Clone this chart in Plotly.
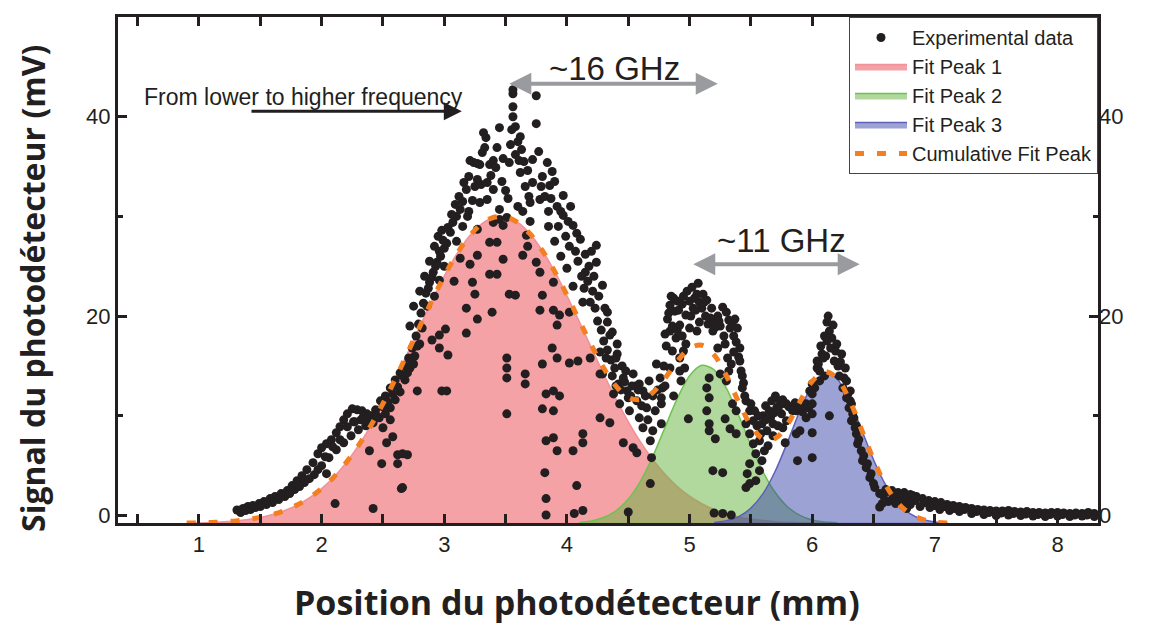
import plotly.graph_objects as go

# ---------------- data ----------------
fit_baseline = -0.8

rise_pts = [
    (1.31, 0.55), (1.36, 0.7), (1.40, 0.9), (1.44, 1.0), (1.49, 1.2), (1.53, 1.4), (1.58, 1.7), (1.62, 1.9),
    (1.67, 2.2), (1.72, 2.5), (1.76, 3.0), (1.80, 3.5), (1.84, 4.0), (1.88, 4.6), (1.93, 5.3), (1.97, 6.2),
    (2.00, 6.8), (2.04, 7.2), (2.08, 7.6), (2.12, 8.3), (2.15, 8.9), (2.18, 9.6), (2.21, 10.2), (2.25, 10.7),
    (2.29, 10.6), (2.33, 10.5), (2.37, 10.2), (2.40, 10.0), (2.44, 10.6), (2.48, 11.5), (2.52, 12.0), (2.56, 12.8),
    (2.60, 13.6), (2.64, 14.3), (2.68, 15.0), (2.71, 15.8), (2.74, 16.8), (2.77, 18.0), (2.79, 19.2), (2.81, 20.3),
    (2.83, 21.3),
    (1.34, 0.3), (1.42, 0.6), (1.50, 0.9), (1.60, 1.3), (1.70, 1.9), (1.78, 2.6), (1.86, 3.3), (1.94, 4.1),
    (2.00, 5.0), (2.06, 5.8), (2.12, 6.6), (2.18, 7.3), (2.24, 8.0), (2.30, 8.6), (2.36, 9.0), (2.42, 9.3),
    (2.47, 9.8), (2.52, 10.2), (2.56, 10.8), (2.60, 11.6), (2.64, 12.4), (2.68, 13.6), (2.72, 14.8), (2.76, 16.0),
    (2.80, 17.2),
    (1.38, 0.5), (1.46, 0.8), (1.55, 1.1), (1.65, 1.6), (1.74, 2.2), (1.82, 2.9), (1.90, 3.7), (1.97, 4.6),
    (2.03, 5.9), (2.09, 6.9), (2.15, 7.6), (2.21, 8.9), (2.27, 9.4), (2.32, 9.6), (2.38, 9.5), (2.45, 10.0),
    (2.50, 10.9), (2.54, 11.4), (2.58, 12.2), (2.62, 12.9), (2.66, 14.0), (2.70, 14.3), (2.73, 15.6),
    (2.04, 4.2), (2.11, 1.2), (2.42, 0.7), (2.49, 5.2), (2.62, 5.2), (2.65, 2.7), (2.62, 6.1), (2.70, 6.1),
    (2.53, 7.3), (2.58, 7.9), (2.39, 6.5), (2.78, 12.5), (2.66, 6.2), (2.66, 2.8), (2.26, 9.4), (2.34, 9.9),
    (2.50, 8.8), (2.56, 9.6),
]

peak1_pts = [
    (2.85, 22.3), (2.88, 23.4), (2.91, 24.4), (2.94, 25.4), (2.97, 26.0), (3.00, 26.8), (3.02, 27.3), (3.05, 28.4),
    (3.07, 29.4), (3.10, 30.0), (3.13, 30.7), (3.15, 31.5), (3.18, 32.7), (3.20, 34.0), (3.21, 35.6), (3.24, 35.4),
    (3.27, 35.3), (3.29, 35.2), (3.32, 38.4), (3.34, 37.9), (3.33, 36.9), (3.37, 35.2), (3.40, 35.6), (3.43, 36.9),
    (3.45, 38.9), (3.48, 35.8), (3.53, 35.4), (3.56, 40.0), (3.56, 41.0), (3.56, 42.3), (3.56, 42.7), (3.58, 39.0),
    (3.60, 37.5), (3.62, 38.0), (3.63, 36.7), (3.62, 34.4), (3.66, 33.0), (3.69, 32.0), (3.70, 31.4), (3.72, 33.4),
    (3.72, 35.7), (3.75, 39.3), (3.75, 42.1), (3.78, 31.7), (3.80, 34.0), (3.84, 35.4), (3.86, 33.1), (3.88, 34.5),
    (3.92, 31.0), (3.97, 32.1), (3.97, 30.1), (4.01, 29.5), (4.05, 29.1), (4.08, 28.3), (4.11, 27.7), (4.15, 26.2),
    (4.18, 25.0), (4.24, 27.1), (4.24, 25.4), (4.15, 24.4), (4.22, 24.0), (4.29, 23.1), (4.19, 21.4), (4.26, 22.0),
    (4.31, 20.8), (4.33, 20.4), (4.35, 18.1), (4.37, 18.4), (4.27, 16.4), (4.41, 17.2),
    (2.87, 22.8), (2.90, 23.9), (2.93, 25.0), (2.96, 26.5), (2.99, 27.6), (3.03, 28.9), (3.06, 30.2), (3.09, 31.2),
    (3.12, 32.0), (3.16, 33.4), (3.19, 30.0), (3.23, 31.6), (3.25, 33.0), (3.30, 33.2), (3.31, 36.4), (3.38, 34.1),
    (3.42, 34.9), (3.47, 33.5), (3.50, 32.6), (3.54, 37.2), (3.55, 38.7), (3.58, 36.2), (3.61, 35.6), (3.52, 31.8),
    (3.65, 35.5), (3.68, 34.6), (3.77, 36.5), (3.79, 33.0), (3.82, 32.0), (3.85, 30.5), (3.87, 31.8), (3.90, 33.5),
    (3.93, 29.0), (3.95, 30.5), (3.99, 28.0), (4.02, 27.0), (4.03, 31.0), (4.07, 26.5), (4.09, 25.5), (4.12, 24.0),
    (4.14, 22.8), (4.17, 23.5), (4.20, 26.5), (4.21, 22.5), (4.23, 20.8), (4.25, 19.5), (4.28, 18.6), (4.30, 17.5),
    (4.33, 16.6), (4.36, 15.6), (4.39, 14.8), (4.42, 13.2), (4.38, 12.2), (4.41, 16.2),
    (2.72, 19.0), (2.75, 21.0), (2.80, 22.5), (2.84, 24.0), (2.88, 25.5), (2.92, 27.0), (2.95, 28.0), (2.98, 28.6),
    (2.86, 21.0), (2.82, 18.8), (2.78, 17.0), (2.75, 15.2), (2.92, 22.0), (2.96, 23.6), (3.00, 25.0), (2.96, 16.8),
    (3.03, 16.1), (2.90, 17.6), (2.96, 18.1), (3.01, 18.7), (2.98, 12.5), (3.02, 12.5),
    (3.29, 31.4), (3.35, 31.7), (3.40, 29.4), (3.45, 29.7), (3.48, 29.1), (3.27, 28.7), (3.37, 27.4), (3.43, 27.4),
    (3.48, 25.7), (3.27, 26.1), (3.21, 25.2), (3.37, 24.2), (3.43, 24.2), (3.23, 23.4), (3.25, 22.2), (3.53, 22.2),
    (3.58, 22.1), (3.18, 20.8), (3.39, 20.4), (3.27, 19.7), (3.18, 18.3), (3.27, 33.7), (3.35, 33.4), (3.40, 32.7),
    (3.45, 30.7), (3.51, 29.9), (3.10, 27.5), (3.15, 29.0), (3.20, 30.5), (3.13, 25.8), (3.08, 23.5),
    (3.64, 26.1), (3.67, 28.1), (3.75, 25.4), (3.78, 24.4), (3.89, 23.4), (3.80, 22.1), (3.89, 20.6), (3.78, 20.6),
    (3.94, 20.1), (3.92, 19.1), (4.02, 20.4), (4.13, 21.4), (3.88, 16.8), (3.92, 15.8), (4.02, 15.3), (4.09, 15.5),
    (3.80, 15.2), (4.19, 15.8), (4.27, 14.2), (3.83, 12.2), (3.89, 12.5), (3.94, 12.0), (3.80, 10.7), (3.89, 10.5),
    (3.51, 15.8), (3.51, 14.8), (3.51, 13.8), (3.66, 14.2), (3.66, 13.2), (3.51, 10.2), (4.27, 9.8), (4.35, 9.3),
    (3.83, 7.5), (3.89, 7.8), (3.92, 6.5), (4.05, 6.5), (4.13, 8.2), (4.13, 7.3), (3.82, 4.3), (4.08, 3.0),
    (3.83, 1.7), (4.06, 0.2), (4.13, 0.5), (3.83, 0.05), (3.68, 27.0), (3.70, 29.5), (3.85, 29.0), (3.90, 27.5),
    (3.95, 26.0), (4.00, 24.8), (4.05, 23.0), (3.60, 31.0), (3.64, 30.5),
]

peak2_pts = [
    (4.33, 19.4), (4.32, 15.8), (4.40, 15.8), (4.29, 14.2), (4.37, 14.0), (4.46, 13.8), (4.54, 14.2), (4.59, 13.2),
    (4.49, 12.5), (4.62, 12.5), (4.43, 11.2), (4.57, 11.5), (4.65, 10.8), (4.51, 10.5), (4.59, 9.8), (4.62, 8.8),
    (4.70, 8.5), (4.68, 7.5), (4.46, 7.3), (4.54, 6.8), (4.57, 6.3), (4.69, 5.8), (4.68, 3.2), (4.50, 0.35),
    (4.76, 13.8), (4.78, 12.8), (4.77, 11.8), (4.77, 11.2), (4.77, 9.2), (4.73, 15.2), (4.52, 12.0), (4.56, 13.0),
    (4.45, 15.0), (4.48, 14.5), (4.70, 12.0), (4.67, 13.5),
    (4.40, 13.0), (4.44, 12.6), (4.47, 13.4), (4.50, 11.8), (4.53, 13.0), (4.58, 12.6), (4.61, 11.0), (4.64, 12.0),
    (4.66, 9.6), (4.72, 10.5), (4.74, 12.6), (4.79, 15.0), (4.80, 13.0),
    (4.84, 21.1), (4.82, 19.7), (4.84, 18.5), (4.81, 17.0), (4.86, 16.5), (4.89, 17.8), (4.92, 19.1), (4.97, 20.1),
    (5.02, 22.9), (5.06, 22.2), (5.08, 21.4), (5.11, 22.2), (5.03, 20.8), (5.00, 18.8), (5.08, 19.4), (5.18, 20.8),
    (5.06, 18.5), (4.92, 15.8), (4.92, 14.5), (4.93, 13.5), (4.96, 14.8), (5.19, 18.5), (5.23, 20.0), (5.30, 20.4),
    (5.37, 19.7), (5.39, 18.8), (5.41, 16.8), (5.23, 16.8), (5.29, 17.2), (5.31, 15.8), (5.34, 15.2), (5.25, 14.2),
    (5.30, 13.5), (5.16, 13.8), (5.14, 12.8), (5.16, 11.8), (5.14, 10.5), (5.16, 9.2), (5.16, 8.5), (5.21, 7.7),
    (5.29, 9.7), (5.33, 8.7), (5.38, 8.2), (5.38, 10.5), (5.35, 11.2), (5.16, 25.0), (4.86, 19.0), (4.88, 20.5),
    (4.90, 21.5), (4.95, 22.0), (5.00, 21.5), (5.04, 21.8), (5.10, 20.8), (5.13, 20.0), (5.15, 19.2), (5.20, 19.6),
    (5.25, 19.0), (5.28, 18.0), (5.33, 18.8), (5.36, 18.0), (5.41, 15.5), (5.42, 14.5), (4.99, 9.7), (5.19, 4.5),
    (5.27, 4.3), (5.20, 0.25), (5.27, 0.2), (5.34, 0.05), (4.87, 12.0), (4.84, 14.8),
    (4.80, 18.2), (4.83, 20.3), (4.85, 22.0), (4.87, 21.8), (4.91, 20.6), (4.94, 21.2), (4.98, 22.5), (5.01, 20.0),
    (5.05, 20.6), (5.07, 23.3), (5.12, 21.4), (5.14, 21.6), (5.17, 19.8), (5.21, 18.9), (5.24, 19.5), (5.27, 20.9),
    (5.32, 19.6), (5.35, 19.1), (5.38, 17.4), (5.40, 15.9), (5.43, 14.0), (5.44, 13.3), (5.36, 16.4), (5.32, 14.5),
    (4.95, 16.5), (4.97, 17.2), (4.90, 18.6), (4.94, 18.0),
]

peak3_pts = [
    (5.43, 12.8), (5.46, 11.5), (5.49, 10.5), (5.46, 9.2), (5.49, 8.2), (5.52, 7.2), (5.54, 6.2), (5.49, 5.2),
    (5.47, 4.2), (5.49, 3.2), (5.46, 2.8), (5.54, 3.5), (5.57, 4.5), (5.59, 5.5), (5.57, 7.5), (5.63, 8.5),
    (5.68, 9.2), (5.71, 10.8), (5.79, 11.2), (5.79, 9.5), (5.87, 10.5), (5.90, 8.5), (5.95, 9.8), (5.60, 10.0),
    (5.62, 11.0), (5.65, 10.5), (5.67, 11.5), (5.70, 12.0), (5.73, 11.0), (5.75, 10.2), (5.68, 8.0), (5.72, 9.0),
    (5.64, 7.0), (5.61, 6.5), (5.55, 9.0), (5.52, 9.5), (5.58, 8.2),
    (5.45, 12.0), (5.50, 11.2), (5.53, 10.5), (5.56, 10.0), (5.59, 9.2), (5.62, 9.6), (5.66, 9.8), (5.69, 10.3),
    (5.72, 10.6), (5.76, 11.6), (5.81, 10.9), (5.86, 11.3), (5.92, 10.4), (5.97, 10.8), (6.02, 12.8), (6.05, 15.2),
    (6.07, 17.0), (6.10, 18.0), (6.11, 16.0), (6.16, 17.8), (6.19, 16.5), (6.21, 15.0), (6.23, 15.4), (6.26, 13.8),
    (6.29, 12.2), (6.31, 11.5), (6.36, 9.0),
    (5.74, 11.5), (5.78, 11.2), (5.84, 10.5), (5.90, 10.8), (5.95, 11.2), (6.00, 10.2), (5.76, 8.8), (5.78, 7.3),
    (5.87, 8.2), (6.00, 8.3), (5.88, 5.5), (6.00, 5.8), (6.14, 10.0), (5.98, 12.5), (6.00, 13.2), (6.06, 13.5),
    (6.04, 14.8), (6.04, 15.5), (6.08, 16.2), (6.12, 17.5), (6.14, 18.5), (6.17, 19.1), (6.13, 20.0), (6.20, 17.2),
    (6.24, 16.2), (6.27, 14.8), (6.28, 13.5), (6.31, 12.5), (6.32, 11.2), (6.33, 10.2), (6.32, 9.5), (6.35, 8.8),
    (6.36, 8.2), (6.37, 7.2), (6.40, 6.5), (6.41, 5.5), (6.44, 4.8), (6.47, 3.8), (6.51, 2.8), (6.55, 2.2),
    (6.57, 1.2), (6.00, 11.2), (6.00, 12.2), (6.06, 14.5), (6.09, 15.8), (6.12, 19.4), (6.15, 16.8), (6.18, 15.5),
    (6.10, 14.0), (6.22, 14.0), (6.25, 12.8), (6.28, 11.8), (6.30, 10.8), (6.34, 9.8), (6.38, 7.6), (6.42, 6.0),
    (6.45, 5.2), (6.48, 4.2), (6.50, 3.2),
]

tail_pts = [
    (6.60, 2.6), (6.65, 2.5), (6.70, 2.3), (6.75, 2.3), (6.80, 2.1), (6.85, 1.9), (6.90, 1.7), (6.95, 1.5),
    (7.00, 1.4), (7.05, 1.3), (7.10, 1.1), (7.15, 1.0), (7.20, 0.9), (7.25, 0.8), (7.30, 0.7), (7.35, 0.6),
    (7.40, 0.55), (7.45, 0.5), (7.50, 0.45), (7.55, 0.45), (7.60, 0.5), (7.65, 0.4), (7.70, 0.35), (7.75, 0.4),
    (7.80, 0.3), (7.85, 0.3), (7.90, 0.25), (7.95, 0.3), (8.00, 0.3), (8.05, 0.25), (8.10, 0.2), (8.15, 0.25),
    (8.20, 0.2), (8.25, 0.3), (8.30, 0.2),
    (6.58, 2.0), (6.66, 1.9), (6.72, 1.7), (6.78, 1.6), (6.84, 1.5), (6.92, 1.3), (7.00, 1.0), (7.08, 0.9),
    (7.16, 0.7), (7.24, 0.6), (7.34, 0.4), (7.44, 0.3), (7.54, 0.25), (7.64, 0.2), (7.74, 0.15), (7.84, 0.1),
    (7.94, 0.1), (8.04, 0.1), (8.14, 0.05), (8.24, 0.05),
    (6.62, 1.4), (6.68, 1.2), (6.74, 1.0), (6.80, 1.1), (6.88, 0.9), (6.96, 0.8), (7.04, 0.6), (7.12, 0.5),
    (7.20, 0.4), (7.30, 0.2), (7.40, 0.1), (7.50, 0.0), (7.60, 0.05), (7.70, 0.0), (7.80, -0.05), (7.90, -0.1),
    (8.00, -0.05), (8.10, -0.1), (8.20, -0.05), (8.30, -0.1),
    (6.63, 2.4), (6.71, 2.2), (6.77, 0.7), (6.82, 2.0), (6.55, 0.85),
]

# Fit curves (values read along each filled peak)
fit1_x = [0.9, 1.0, 1.1, 1.2, 1.3, 1.4, 1.5, 1.6, 1.7, 1.8, 1.9, 2.0, 2.1, 2.2, 2.3, 2.4, 2.5, 2.6, 2.7, 2.8,
          2.9, 3.0, 3.1, 3.2, 3.3, 3.4, 3.5, 3.6, 3.7, 3.8, 3.9, 4.0, 4.1, 4.2, 4.3, 4.4, 4.5, 4.6, 4.7, 4.8,
          4.9, 5.0, 5.1, 5.2, 5.3, 5.4, 5.5, 5.6, 5.7, 5.8, 5.9, 6.0, 6.1]
fit1_y = [-0.76, -0.74, -0.70, -0.63, -0.54, -0.39, -0.19, 0.10, 0.51, 1.05, 1.77, 2.70, 3.87, 5.30, 7.00, 8.99,
          11.23, 13.68, 16.28, 18.95, 21.56, 24.02, 26.18, 27.95, 29.21, 29.89, 29.95, 29.39, 28.24, 26.57, 24.48,
          22.07, 19.48, 16.81, 14.19, 11.70, 9.42, 7.38, 5.62, 4.13, 2.91, 1.94, 1.18, 0.60, 0.17, -0.14, -0.36,
          -0.51, -0.62, -0.685, -0.73, -0.76, -0.78]

fit2_x = [4.1, 4.2, 4.3, 4.4, 4.5, 4.6, 4.7, 4.8, 4.9, 5.0, 5.1, 5.2, 5.3, 5.4, 5.5, 5.6, 5.7, 5.8, 5.9, 6.0,
          6.1, 6.2]
fit2_y = [-0.70, -0.55, -0.20, 0.47, 1.63, 3.45, 5.92, 8.84, 11.75, 14.02, 15.07, 14.61, 12.77, 10.04, 7.06,
          4.36, 2.28, 0.86, 0.02, -0.44, -0.65, -0.75]

fit3_x = [5.2, 5.3, 5.4, 5.5, 5.6, 5.7, 5.8, 5.9, 6.0, 6.1, 6.2, 6.3, 6.4, 6.5, 6.6, 6.7, 6.8, 6.9, 7.0, 7.1]
fit3_y = [-0.70, -0.52, -0.11, 0.74, 2.22, 4.49, 7.41, 10.53, 13.06, 14.26, 13.74, 11.65, 8.68, 5.60, 3.04,
          1.24, 0.17, -0.39, -0.65, -0.75]

cum_x = [0.9, 1.0, 1.1, 1.2, 1.3, 1.4, 1.5, 1.6, 1.7, 1.8, 1.9, 2.0, 2.1, 2.2, 2.3, 2.4, 2.5, 2.6, 2.7, 2.8,
         2.9, 3.0, 3.1, 3.2, 3.3, 3.4, 3.5, 3.6, 3.7, 3.8, 3.9, 4.0, 4.1, 4.2, 4.3, 4.4, 4.5, 4.6, 4.7, 4.8,
         4.9, 5.0, 5.1, 5.2, 5.3, 5.4, 5.5, 5.6, 5.7, 5.8, 5.9, 6.0, 6.1, 6.2, 6.3, 6.4, 6.5, 6.6, 6.7, 6.8,
         6.9, 7.0, 7.1]
cum_y = [-0.76, -0.74, -0.70, -0.63, -0.54, -0.39, -0.19, 0.10, 0.51, 1.05, 1.77, 2.70, 3.87, 5.30, 7.00, 8.99,
         11.23, 13.68, 16.28, 18.95, 21.56, 24.02, 26.18, 27.95, 29.21, 29.89, 29.95, 29.39, 28.24, 26.57, 24.48,
         22.11, 19.58, 17.07, 14.79, 12.97, 11.85, 11.63, 12.34, 13.77, 15.46, 16.76, 17.08, 16.11, 14.02, 11.39,
         9.04, 7.68, 7.75, 9.19, 11.42, 13.46, 14.43, 13.80, 11.68, 8.68, 5.60, 3.04, 1.24, 0.17, -0.39, -0.65,
         -0.75]

x_range = [0.34, 8.33]
y_range = [-0.75, 50]

x_title = "Position du photodétecteur (mm)"
y_title = "Signal du photodétecteur (mV)"

# ---------------- figure ----------------
INK = "#231F20"
exp_pts = rise_pts + peak1_pts + peak2_pts + peak3_pts + tail_pts
exp_x = [p[0] for p in exp_pts]
exp_y = [p[1] for p in exp_pts]

fig = go.Figure()

fits = [
    ("Fit Peak 1", fit1_x, fit1_y, "rgba(232,60,70,0.48)", "rgba(240,140,145,0.9)", 2),
    ("Fit Peak 2", fit2_x, fit2_y, "rgba(100,180,60,0.5)", "rgb(110,195,80)", 3),
    ("Fit Peak 3", fit3_x, fit3_y, "rgba(60,70,170,0.5)", "rgb(95,95,185)", 4),
]
for name, fx, fy, fc, lc, rank in fits:
    px = list(fx) + list(fx[::-1])
    py = list(fy) + [fit_baseline] * len(fx)
    fig.add_trace(go.Scatter(
        x=px, y=py, mode="lines", fill="toself", fillcolor=fc,
        line=dict(color=lc, width=1.5, shape="spline", smoothing=0.8),
        name=name, legendrank=rank, hoverinfo="skip"))

fig.add_trace(go.Scatter(
    x=exp_x, y=exp_y, mode="markers", name="Experimental data", legendrank=1,
    marker=dict(size=9, color=INK)))

fig.add_trace(go.Scatter(
    x=cum_x, y=cum_y, mode="lines", name="Cumulative Fit Peak", legendrank=5,
    line=dict(color="#F47F20", width=5, dash="9px,13px", shape="spline")))

# invisible trace to carry the right-hand axis labels
fig.add_trace(go.Scatter(x=cum_x[:1], y=cum_y[:1], yaxis="y2", mode="markers",
                         marker=dict(opacity=0), showlegend=False, hoverinfo="skip"))

x_title_font = dict(family="Open Sans, Lato, sans-serif", size=34, color=INK, weight="bold")
y_title_font = dict(family="Open Sans, Lato, sans-serif", size=32, color=INK, weight="bold")

fig.update_layout(
    width=1150, height=628,
    margin=dict(l=110, r=60, t=6, b=113),
    plot_bgcolor="white", paper_bgcolor="white",
    font=dict(family="Liberation Sans, Arial, sans-serif", size=22, color=INK),
    showlegend=True,
    legend=dict(x=1, xanchor="right", y=1, yanchor="top", bgcolor="white",
                bordercolor="#444444", borderwidth=1, font=dict(size=20),
                itemwidth=52, tracegroupgap=0),
    xaxis=dict(range=x_range, tick0=0, dtick=1, ticks="inside", ticklen=9, tickwidth=3,
               tickcolor=INK, showline=True, linewidth=3, linecolor=INK, mirror="allticks",
               showgrid=False, zeroline=False,
               minor=dict(dtick=0.5, tick0=0, ticks="inside", ticklen=5, tickwidth=3,
                          tickcolor=INK, showgrid=False)),
    yaxis=dict(range=y_range, tick0=0, dtick=20, ticks="inside", ticklen=9, tickwidth=3,
               tickcolor=INK, showline=True, linewidth=3, linecolor=INK, mirror="allticks",
               showgrid=False, zeroline=False,
               minor=dict(dtick=10, tick0=0, ticks="inside", ticklen=5, tickwidth=3,
                          tickcolor=INK, showgrid=False)),
    yaxis2=dict(range=y_range, overlaying="y", side="right", tick0=0, dtick=20, ticks="",
                showline=False, showgrid=False, zeroline=False, showticklabels=True),
)

# axis titles (placed as in the original figure, slightly off-centre)
fig.add_annotation(x=0.468, y=-0.157, xref="paper", yref="paper", text=x_title, showarrow=False,
                   xanchor="center", yanchor="middle", font=x_title_font)
fig.add_annotation(x=-0.088, y=0.464, xref="paper", yref="paper", text=y_title, showarrow=False,
                   textangle=-90, xanchor="center", yanchor="middle", font=y_title_font)

ann_gray = "#9A9B9E"
fig.add_annotation(x=1.856, y=42.0, xref="x", yref="y", text="From lower to higher frequency",
                   showarrow=False, font=dict(size=23, color=INK))
fig.add_annotation(x=3.143, y=40.55, ax=1.416, ay=40.55, xref="x", yref="y", axref="x", ayref="y",
                   text="", showarrow=True, arrowhead=2, arrowsize=1.2, arrowwidth=3, arrowcolor=INK)
fig.add_annotation(x=5.23, y=43.3, ax=3.518, ay=43.3, xref="x", yref="y", axref="x", ayref="y",
                   text="", showarrow=True, arrowhead=2, arrowsize=1.1, arrowwidth=4,
                   arrowside="end+start", arrowcolor=ann_gray)
fig.add_annotation(x=4.39, y=44.8, xref="x", yref="y", text="~16 GHz", showarrow=False,
                   font=dict(size=33, color=INK))
fig.add_annotation(x=6.387, y=25.2, ax=5.018, ay=25.2, xref="x", yref="y", axref="x", ayref="y",
                   text="", showarrow=True, arrowhead=2, arrowsize=1.1, arrowwidth=4,
                   arrowside="end+start", arrowcolor=ann_gray)
fig.add_annotation(x=5.75, y=27.6, xref="x", yref="y", text="~11 GHz", showarrow=False,
                   font=dict(size=33, color=INK))

fig.write_html("out.html")
